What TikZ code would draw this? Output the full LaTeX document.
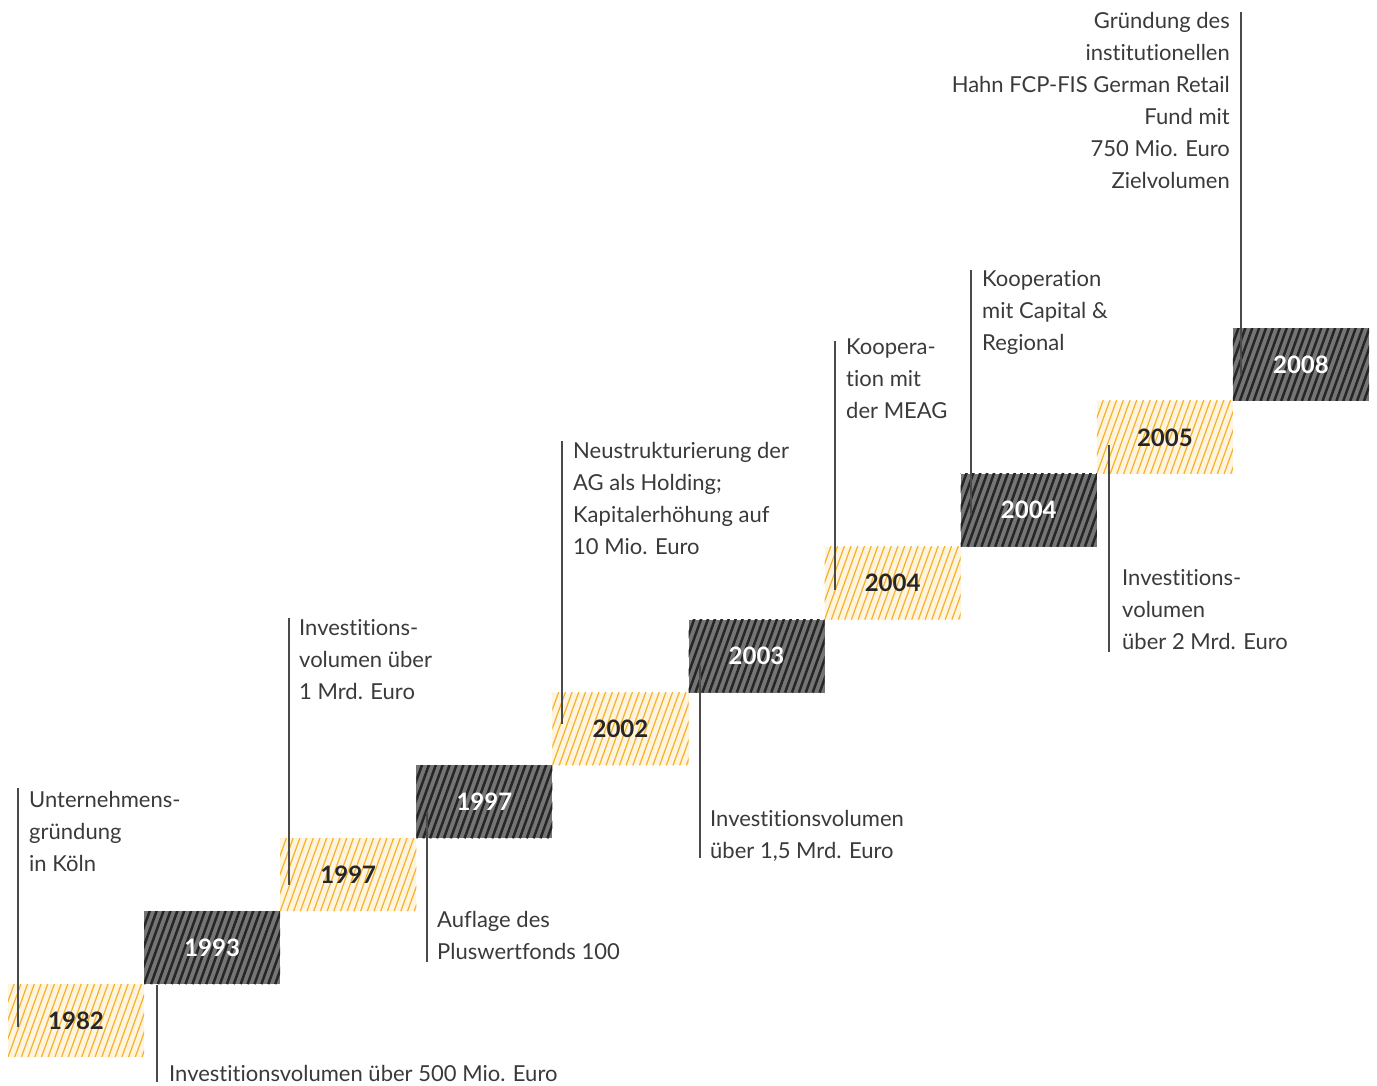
\documentclass[tikz,border=0pt]{standalone}
\usepackage{fontspec}
\setmainfont{Lato}[Ligatures=NoCommon]
\usetikzlibrary{calc}
\definecolor{txt}{HTML}{3A3A3A}
\definecolor{yelbg}{HTML}{FFF4DE}
\definecolor{yelst}{HTML}{F6B12A}
\definecolor{darkbg}{HTML}{757575}
\definecolor{darkst}{HTML}{262626}
\definecolor{linec}{HTML}{4A4A4A}
\tikzset{
  yearbox/.style={minimum width=136.1pt, minimum height=72.9pt, inner sep=0pt,
    font=\fontsize{24}{28}\selectfont\bfseries},
  yelbox/.style={yearbox, fill=yelbg, text=darkst,
    path picture={\foreach \k in {-5,...,22}
      \draw[yelst, line width=1.2pt] ([xshift=\k*6.7pt]path picture bounding box.south west) -- ++(27,-75);}},
  darkbox/.style={yearbox, fill=darkbg, text=white,
    path picture={\foreach \k in {-5,...,22}
      \draw[darkst, line width=2.5pt] ([xshift=\k*6.9pt]path picture bounding box.south west) -- ++(27,-75);}},
  note/.style={anchor=north west, inner sep=0pt, align=left, text=txt,
    font=\fontsize{22}{32}\selectfont},
  noter/.style={note, anchor=north east, align=right},
  tick/.style={draw=linec, line width=1.1pt},
}
\begin{document}
\begin{tikzpicture}[x=1pt, y=-1pt]
\useasboundingbox (0,0) rectangle (1377,1085);
% boxes
\node[yelbox]  (b1982)  at ({8+136.1*0.5},{1057-72.9*0.5}) {1982};
\node[darkbox] (b1993)  at ({8+136.1*1.5},{1057-72.9*1.5}) {1993};
\node[yelbox]  (b1997a) at ({8+136.1*2.5},{1057-72.9*2.5}) {1997};
\node[darkbox] (b1997b) at ({8+136.1*3.5},{1057-72.9*3.5}) {1997};
\node[yelbox]  (b2002)  at ({8+136.1*4.5},{1057-72.9*4.5}) {2002};
\node[darkbox] (b2003)  at ({8+136.1*5.5},{1057-72.9*5.5}) {2003};
\node[yelbox]  (b2004a) at ({8+136.1*6.5},{1057-72.9*6.5}) {2004};
\node[darkbox] (b2004b) at ({8+136.1*7.5},{1057-72.9*7.5}) {2004};
\node[yelbox]  (b2005)  at ({8+136.1*8.5},{1057-72.9*8.5}) {2005};
\node[darkbox] (b2008)  at ({8+136.1*9.5},{1057-72.9*9.5}) {2008};
% notes
\node[note] (n1982) at (29,791) {Unternehmens-\\gründung\\in Köln};
\node[note] (n1993) at (169,1065) {Investitionsvolumen über 500 Mio. Euro};
\node[note] (n1997a) at (299,619) {Investitions-\\volumen über\\1 Mrd. Euro};
\node[note] (n1997b) at (437,911) {Auflage des\\Pluswertfonds 100};
\node[note] (n2002) at (573,442) {Neustrukturierung der\\AG als Holding;\\Kapitalerhöhung auf\\10 Mio. Euro};
\node[note] (n2003) at (710,810) {Investitionsvolumen\\über 1,5 Mrd. Euro};
\node[note] (n2004a) at (846,339) {Koopera-\\tion mit\\der MEAG};
\node[note] (n2004b) at (982,270) {Kooperation\\mit Capital \&\\Regional};
\node[note] (n2005) at (1122,569) {Investitions-\\volumen\\über 2 Mrd. Euro};
\node[noter] (n2008) at (1230,12) {Gründung des\\institutionellen\\Hahn FCP-FIS German Retail\\Fund mit\\750 Mio. Euro\\Zielvolumen};
% ticks
\coordinate (t1982) at (18,788);   \coordinate (e1982) at (18,1027);
\coordinate (t1993) at (157,985);  \coordinate (e1993) at (157,1082);
\coordinate (t1997a) at (289,618); \coordinate (e1997a) at (289,885);
\coordinate (t1997b) at (427,812); \coordinate (e1997b) at (427,962);
\coordinate (t2002) at (562,441);  \coordinate (e2002) at (562,724);
\coordinate (t2003) at (700,665);  \coordinate (e2003) at (700,858);
\coordinate (t2004a) at (835,341); \coordinate (e2004a) at (835,590);
\coordinate (t2004b) at (971,270); \coordinate (e2004b) at (971,515);
\coordinate (t2005) at (1109,445); \coordinate (e2005) at (1109,652);
\coordinate (t2008) at (1241,12);  \coordinate (e2008) at (1241,375);
\foreach \n in {1982,1993,1997a,1997b,2002,2003,2004a,2004b,2005,2008}
  \draw[tick] (t\n) -- (e\n);
\end{tikzpicture}
\end{document}
